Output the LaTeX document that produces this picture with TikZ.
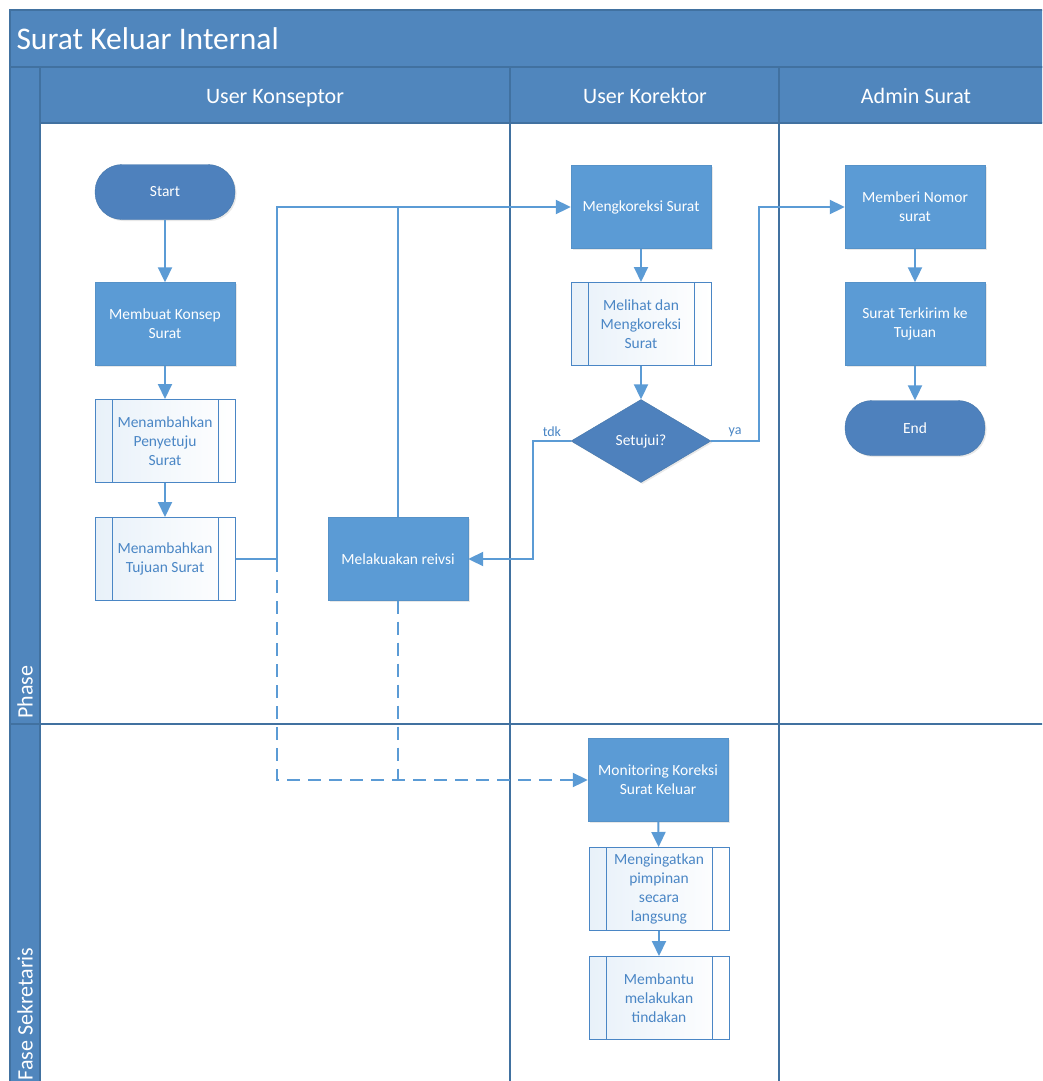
\documentclass[tikz,border=0pt]{standalone}
\usepackage{fontspec}
\setmainfont{Carlito}
\usetikzlibrary{arrows.meta,shapes.geometric,shadows}

\definecolor{hdrblue}{RGB}{80,134,189}
\definecolor{boxblue}{RGB}{91,155,213}
\definecolor{termblue}{RGB}{78,129,189}
\definecolor{laneline}{RGB}{65,113,160}
\definecolor{subtext}{RGB}{74,134,197}

\tikzset{
  nodefont/.style={font=\fontsize{15.5}{19}\selectfont},
  shade/.style={drop shadow={opacity=0.18,shadow xshift=1.5pt,shadow yshift=-1.5pt}},
  proc/.style={rectangle,nodefont,fill=boxblue,draw=boxblue!85!black!40!boxblue,
    minimum width=140pt,minimum height=83pt,align=center,text=white,shade},
  subproc/.style={rectangle,nodefont,left color=boxblue!14,right color=white,
    draw=subtext,line width=1pt,minimum width=140pt,minimum height=83pt,
    align=center,text=subtext,
    path picture={
      \draw[subtext,line width=1pt]
        ([xshift=17pt]path picture bounding box.north west) -- ([xshift=17pt]path picture bounding box.south west)
        ([xshift=-17pt]path picture bounding box.north east) -- ([xshift=-17pt]path picture bounding box.south east);
    }},
  term/.style={rectangle,rounded corners=27pt,nodefont,fill=termblue,draw=laneline!70!termblue,
    minimum width=140pt,minimum height=55pt,text=white,shade},
  decide/.style={diamond,nodefont,fill=termblue,draw=laneline!70!termblue,
    minimum width=140pt,minimum height=83pt,inner sep=0pt,text=white,shade},
  tip/.style={-{Triangle[length=15pt,width=14pt]}},
  conn/.style={color=boxblue,line width=2pt},
  arr/.style={conn,tip},
  dashconn/.style={conn,dash pattern=on 13pt off 8pt},
  lbl/.style={font=\fontsize{14}{16}\selectfont,text=subtext},
  lanehead/.style={font=\fontsize{22}{26}\selectfont,text=white},
  lane/.style={draw=laneline,line width=1.5pt}
}

\begin{document}
\begin{tikzpicture}[x=1pt,y=-1pt]
  \useasboundingbox (0,0) rectangle (1042,1081);
  \clip (0,0) rectangle (1042,1081);
  \fill[white] (0,0) rectangle (1042,1081);

  % pool and lanes
  \filldraw[fill=hdrblue,lane] (10,10) rectangle (1053,67);
  \filldraw[fill=hdrblue,lane] (10,67) rectangle (40,1100);
  \filldraw[fill=hdrblue,lane] (40,67) rectangle (510,123);
  \filldraw[fill=hdrblue,lane] (510,67) rectangle (779,123);
  \filldraw[fill=hdrblue,lane] (779,67) rectangle (1053,123);
  \draw[lane] (510,123) -- (510,1100);
  \draw[lane] (779,123) -- (779,1100);
  \draw[lane] (1053,123) -- (1053,1100);
  \draw[lane] (10,724) -- (1053,724);

  \node[anchor=base west,font=\fontsize{31.5}{36}\selectfont,text=white] (title) at (13,49) {Surat Keluar Internal};
  \node[lanehead,anchor=base] (konseptor) at (275,103) {User Konseptor};
  \node[lanehead,anchor=base] (korektor) at (645,103) {User Korektor};
  \node[lanehead,anchor=base] (admin) at (916,103) {Admin Surat};
  \node[lanehead,rotate=90,anchor=west] (phase) at (25,722) {Phase};
  \node[lanehead,rotate=90,anchor=west] (fase) at (25,1084) {Fase Sekretaris};

  % user konseptor
  \node[term] (start) at (165,192) {Start};
  \node[proc] (konsep) at (165,324) {Membuat Konsep\\Surat};
  \node[subproc] (penyetuju) at (165,441) {Menambahkan\\Penyetuju\\Surat};
  \node[subproc] (tujuan) at (165,559) {Menambahkan\\Tujuan Surat};
  \node[proc] (revisi) at (398,559) {Melakuakan reivsi};

  % user korektor
  \node[proc] (koreksi) at (641,207) {Mengkoreksi Surat};
  \node[subproc] (melihat) at (641,324) {Melihat dan\\Mengkoreksi\\Surat};
  \node[decide] (setuju) at (641,441) {Setujui?};

  % admin surat
  \node[proc] (nomor) at (915,207) {Memberi Nomor\\surat};
  \node[proc] (terkirim) at (915,324) {Surat Terkirim ke\\Tujuan};
  \node[term] (end) at (915,428) {End};

  % fase sekretaris
  \node[proc] (monitor) at (658,780) {Monitoring Koreksi\\Surat Keluar};
  \node[subproc] (ingat) at (659,889) {Mengingatkan\\pimpinan\\secara\\langsung};
  \node[subproc] (bantu) at (659,998) {Membantu\\melakukan\\tindakan};

  \coordinate (jtujuan) at (277,559);
  \coordinate (jtdk) at (533,441);
  \coordinate (jya) at (759,441);

  \path[arr]
    (start) edge (konsep)
    (konsep) edge (penyetuju)
    (penyetuju) edge (tujuan)
    (koreksi) edge (melihat)
    (melihat) edge (setuju)
    (nomor) edge (terkirim)
    (terkirim) edge (end)
    (monitor) edge (ingat)
    (ingat) edge (bantu);

  \draw[arr] (tujuan.east) -- (jtujuan) |- (koreksi.west);
  \draw[conn] (revisi.north) -- (revisi.north |- koreksi.west);
  \draw[arr] (setuju.west) -- node[lbl,above] (ltdk) {tdk} (jtdk) |- (revisi.east);
  \draw[arr] (setuju.east) -- node[lbl,above] (lya) {ya} (jya) |- (nomor.west);

  \draw[dashconn,tip] (jtujuan) -- (jtujuan |- monitor.west) -- (monitor.west);
  \draw[dashconn] (revisi.south) -- (revisi.south |- monitor.west);
\end{tikzpicture}
\end{document}
